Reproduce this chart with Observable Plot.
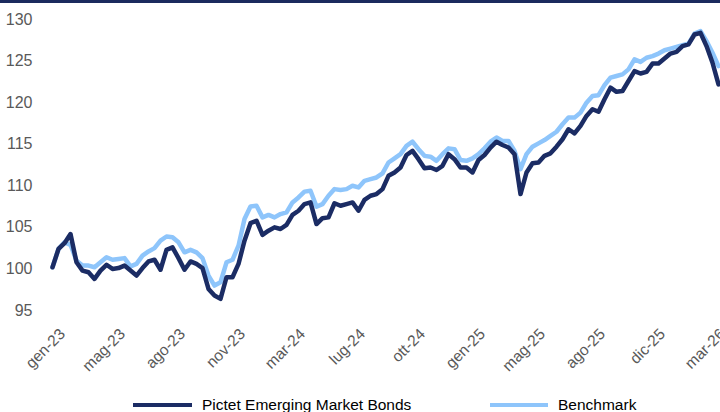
<!DOCTYPE html>
<html>
<head>
<meta charset="utf-8">
<script src="https://cdn.jsdelivr.net/npm/d3@7"></script>
<script src="https://cdn.jsdelivr.net/npm/@observablehq/plot@0.6"></script>
<style>
  html, body { margin: 0; padding: 0; background: #fff; }
  #wrap { position: relative; width: 720px; height: 412px; overflow: hidden; font-family: "Liberation Sans", Arial, sans-serif; }
  #topbar { position: absolute; left: 0; top: 0; width: 720px; height: 3px; background: #1b2a5e; }
  #legend { position: absolute; left: 0; top: 380px; width: 720px; height: 32px; }
  .sw { position: absolute; height: 4px; top: 23px; }
  .lt { position: absolute; top: 17px; font-size: 15.5px; color: #000; line-height: 16px; white-space: nowrap; }
</style>
</head>
<body>
<div id="wrap">
  <div id="chart"></div>
  <div id="topbar"></div>
  <div id="legend"></div>
</div>
<script>
// Series names
const seriesNames = ["Pictet Emerging Market Bonds", "Benchmark"];
const seriesColors = ["#1b2c64", "#8ec5fb"];

// Category-axis tick labels (every 10 points, starting at point 1)
const tickLabels = ["gen-23","mag-23","ago-23","nov-23","mar-24","lug-24","ott-24","gen-25","mag-25","ago-25","dic-25","mar-26"];
const tickIndex = [1, 11, 21, 31, 41, 51, 61, 71, 81, 91, 101, 111];

// Y ticks
const yTicks = [95, 100, 105, 110, 115, 120, 125, 130];

// Fund values (indexed to 100), sampled evenly along the category axis
const fund = [
100.2,102.4,103.1,104.2,100.8,99.8,99.6,98.8,99.8,100.5,
100.0,100.1,100.4,99.8,99.2,100.1,100.9,101.1,99.9,102.3,
102.6,101.3,99.9,100.9,100.6,100.1,97.6,96.8,96.4,99.0,
99.0,100.6,103.4,105.5,105.8,104.1,104.6,105.0,104.8,105.3,
106.5,107.0,107.8,108.0,105.4,106.1,106.2,107.9,107.6,107.8,
108.0,107.0,108.3,108.8,109.0,109.6,111.2,111.6,112.2,113.7,
114.2,113.2,112.1,112.2,111.9,112.4,113.8,113.2,112.2,112.2,
111.6,113.1,113.7,114.6,115.3,114.9,114.6,113.8,109.0,111.6,
112.7,112.8,113.6,113.9,114.7,115.6,116.8,116.3,117.2,118.4,
119.2,118.9,120.4,121.8,121.3,121.4,122.6,123.8,123.5,123.7,
124.7,124.7,125.3,125.9,126.1,126.8,127.0,128.2,128.4,126.8,
124.8,122.2
];

// Benchmark values (indexed to 100)
const bench = [
100.2,102.4,103.2,102.9,101.0,100.4,100.4,100.2,100.8,101.4,
101.1,101.2,101.3,100.3,100.6,101.6,102.1,102.5,103.4,103.9,
103.8,103.2,102.0,102.3,102.0,101.3,99.2,98.0,98.4,100.8,
101.1,102.8,106.0,107.5,107.6,106.2,106.5,106.2,106.6,106.8,
108.0,108.6,109.3,109.4,107.5,107.8,108.8,109.6,109.5,109.6,
110.0,109.8,110.6,110.8,111.0,111.5,112.8,113.3,113.8,114.8,
115.3,114.4,113.6,113.5,113.0,113.8,114.5,114.4,113.1,113.0,
113.3,113.8,114.5,115.3,115.8,115.4,115.4,114.2,112.0,113.8,
114.7,115.1,115.5,116.0,116.5,117.4,118.2,118.2,118.8,120.0,
120.8,120.9,122.1,123.0,123.2,123.4,124.0,125.2,124.9,125.4,
125.6,125.9,126.3,126.5,126.7,126.9,127.1,128.3,128.6,127.4,
126.0,124.4
];

const rows = [];
bench.forEach((v, i) => rows.push({i, v, s: seriesNames[1]}));
fund.forEach((v, i) => rows.push({i, v, s: seriesNames[0]}));

const chart = Plot.plot({
  width: 720,
  height: 380,
  marginLeft: 52,
  marginRight: 2,
  marginTop: 19,
  marginBottom: 70,
  style: { fontFamily: "'Liberation Sans', Arial, sans-serif", background: "#fff" },
  x: { type: "linear", domain: [0, fund.length - 1] },
  y: { domain: [95, 130] },
  color: { domain: seriesNames, range: seriesColors },
  marks: [
    Plot.axisY({ ticks: yTicks, tickSize: 0, tickPadding: 20, fontSize: 16, fill: "#595959", label: null }),
    Plot.axisX({ ticks: tickIndex, tickFormat: (d) => tickLabels[tickIndex.indexOf(d)], tickSize: 0, tickPadding: 21, dx: 4, tickRotate: -45, fontSize: 15.5, fill: "#595959", label: null }),
    Plot.line(rows, { x: "i", y: "v", z: "s", stroke: "s", strokeWidth: 4.5, strokeLinejoin: "round", strokeLinecap: "round" })
  ]
});
document.getElementById("chart").appendChild(chart);

// Legend
const legend = document.getElementById("legend");
const legendPos = [{sw: 133, w: 59, tx: 202}, {sw: 490, w: 58, tx: 558}];
seriesNames.forEach((name, k) => {
  const sw = document.createElement("div");
  sw.className = "sw";
  sw.style.left = legendPos[k].sw + "px";
  sw.style.width = legendPos[k].w + "px";
  sw.style.background = seriesColors[k];
  legend.appendChild(sw);
  const t = document.createElement("div");
  t.className = "lt";
  t.style.left = legendPos[k].tx + "px";
  t.textContent = name;
  legend.appendChild(t);
});
</script>
</body>
</html>
